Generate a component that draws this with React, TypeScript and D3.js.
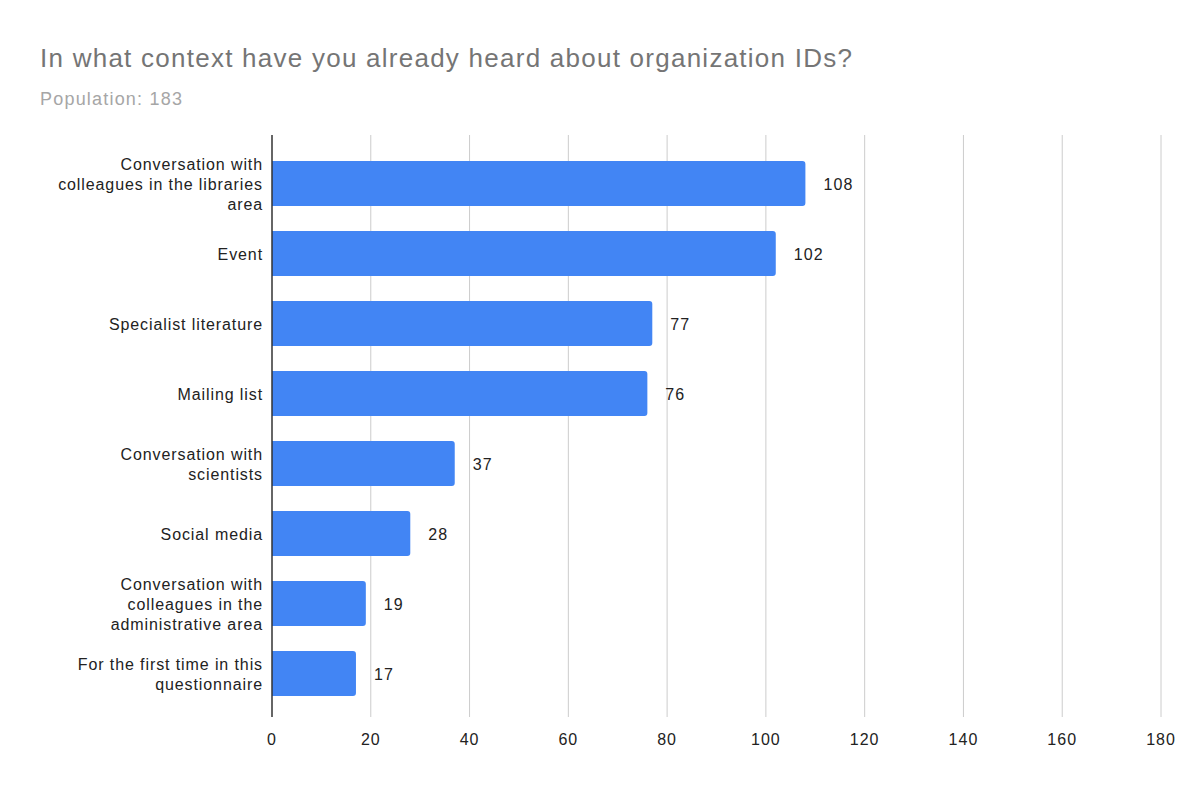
import { useEffect, useRef } from "react";
import * as d3 from "d3";

const title = "In what context have you already heard about organization IDs?";
const subtitle = "Population: 183";

// "\n" marks where the original wraps each label
const categories = [
  "Conversation with\ncolleagues in the libraries\narea",
  "Event",
  "Specialist literature",
  "Mailing list",
  "Conversation with\nscientists",
  "Social media",
  "Conversation with\ncolleagues in the\nadministrative area",
  "For the first time in this\nquestionnaire",
];
const counts = [108, 102, 77, 76, 37, 28, 19, 17];
const xTicks = [0, 20, 40, 60, 80, 100, 120, 140, 160, 180];

const W = 1200;
const H = 789;
const FONT = "'Liberation Sans', Arial, sans-serif";

export default function App() {
  const svgRef = useRef<SVGSVGElement>(null);

  useEffect(() => {
    if (!svgRef.current) return;
    const svg = d3.select(svgRef.current);
    svg.selectAll("*").remove();

    svg.append("rect").attr("width", W).attr("height", H).attr("fill", "#ffffff");

    svg
      .append("text")
      .attr("x", 40)
      .attr("y", 67)
      .style("font-family", FONT)
      .style("font-size", "26px")
      .style("letter-spacing", "1.25px")
      .style("fill", "#757575")
      .text(title);

    svg
      .append("text")
      .attr("x", 40)
      .attr("y", 105)
      .style("font-family", FONT)
      .style("font-size", "18px")
      .style("letter-spacing", "1.2px")
      .style("fill", "#a6a6a6")
      .text(subtitle);

    const x = d3.scaleLinear().domain([0, 180]).range([272, 1161]);
    const y = d3
      .scaleBand<string>()
      .domain(categories)
      .range([148.5, 708.5])
      .paddingInner(0.36)
      .paddingOuter(0.18);

    const gridTop = 135;
    const gridBottom = 717;

    // vertical gridlines
    svg
      .append("g")
      .selectAll("line")
      .data(xTicks.filter((t) => t !== 0))
      .join("line")
      .attr("x1", (d) => x(d))
      .attr("x2", (d) => x(d))
      .attr("y1", gridTop)
      .attr("y2", gridBottom)
      .attr("stroke", "#cccccc")
      .attr("stroke-width", 1);

    // tick labels
    svg
      .append("g")
      .selectAll("text")
      .data(xTicks)
      .join("text")
      .attr("x", (d) => x(d))
      .attr("y", 745)
      .attr("text-anchor", "middle")
      .style("font-family", FONT)
      .style("font-size", "16px")
      .style("letter-spacing", "1px")
      .style("fill", "#222222")
      .text((d) => d);

    // bars with rounded right end
    const bw = y.bandwidth();
    const r = 3;
    svg
      .append("g")
      .selectAll("path")
      .data(counts)
      .join("path")
      .attr("fill", "#4285f4")
      .attr("d", (d, i) => {
        const x0 = x(0);
        const x1 = x(d);
        const y0 = y(categories[i])!;
        const y1 = y0 + bw;
        return `M${x0},${y0}H${x1 - r}Q${x1},${y0} ${x1},${y0 + r}V${y1 - r}Q${x1},${y1} ${x1 - r},${y1}H${x0}Z`;
      });

    // value labels
    svg
      .append("g")
      .selectAll("text")
      .data(counts)
      .join("text")
      .attr("x", (d) => x(d) + 18)
      .attr("y", (d, i) => y(categories[i])! + bw / 2 + 6)
      .style("font-family", FONT)
      .style("font-size", "16px")
      .style("letter-spacing", "1.1px")
      .style("fill", "#222222")
      .text((d) => d);

    // category labels (multi-line, right aligned)
    categories.forEach((c) => {
      const lines = c.split("\n");
      const cy = y(c)! + bw / 2;
      const lh = 20;
      const t = svg
        .append("text")
        .attr("text-anchor", "end")
        .style("font-family", FONT)
        .style("font-size", "16px")
        .style("letter-spacing", "0.9px")
        .style("fill", "#222222");
      lines.forEach((ln, k) => {
        t.append("tspan")
          .attr("x", 263)
          .attr("y", cy + 6 + (k - (lines.length - 1) / 2) * lh)
          .text(ln);
      });
    });

    // zero axis line
    svg
      .append("line")
      .attr("x1", x(0))
      .attr("x2", x(0))
      .attr("y1", gridTop)
      .attr("y2", gridBottom)
      .attr("stroke", "#333333")
      .attr("stroke-width", 1.5);
  }, []);

  return (
    <svg
      ref={svgRef}
      width={W}
      height={H}
      style={{ position: "absolute", left: 0, top: 0 }}
    />
  );
}
